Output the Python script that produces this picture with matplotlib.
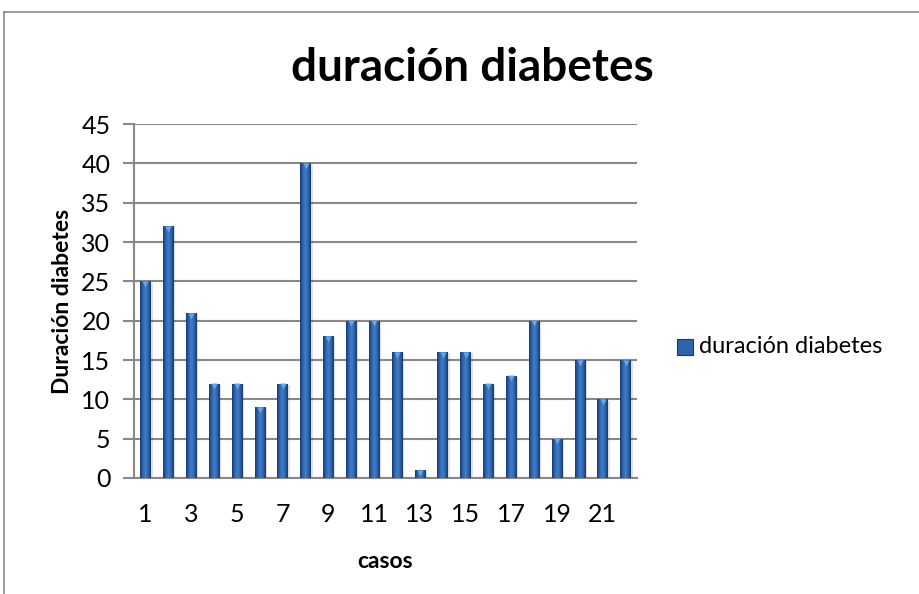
import numpy as np
import matplotlib.pyplot as plt
from matplotlib.colors import LinearSegmentedColormap
from matplotlib.lines import Line2D

plt.rcParams['font.family'] = ['Lato', 'DejaVu Sans']

casos = list(range(1, 23))
duracion = [25, 32, 21, 12, 12, 9, 12, 40, 18, 20, 20, 16, 1, 16, 16, 12, 13, 20, 5, 15, 10, 15]
yticks = list(range(0, 46, 5))
xtick_labels = [str(c) for c in casos[::2]]

fig = plt.figure(figsize=(9.2, 5.94), dpi=100)
ax = fig.add_axes([0.1457, 0.1953, 0.5467, 0.5959])

# outer chart frame (only top and left visible)
fig.add_artist(Line2D([0.0045, 0.0045], [0, 0.98], color='#8c8c8c', lw=1.2, transform=fig.transFigure))
fig.add_artist(Line2D([0.0045, 1.0], [0.98, 0.98], color='#8c8c8c', lw=1.2, transform=fig.transFigure))

bar_w = 0.46
bars = ax.bar(casos, duracion, width=bar_w, color='#2f62a8', edgecolor='none', zorder=3)

cmap = LinearSegmentedColormap.from_list('excel', ['#173a6e', '#2e64ad', '#3f7ccc', '#2e64ad', '#173a6e'])
grad = np.linspace(0, 1, 64).reshape(1, -1)
for b in bars:
    x0, w, h = b.get_x(), b.get_width(), b.get_height()
    # soft shadow to the right
    ax.bar(x0 + w / 2 + 0.08, h, width=w, bottom=-0.15, color='#000000', alpha=0.12,
           edgecolor='none', zorder=2)
    im = ax.imshow(grad, cmap=cmap, aspect='auto', extent=(x0, x0 + w, 0, h), zorder=4)
    im.set_clip_path(b)
    # lighter cap at the top
    ax.plot([x0 + w / 2], [h - 0.35], marker='v', ms=4.5, color='#6aa3e6', mec='none', zorder=5)

ax.set_xlim(0.5, 22.5)
ax.set_ylim(0, 45)
ax.set_yticks(yticks)
ax.set_xticks(casos[::2])
ax.set_xticklabels(xtick_labels)

ax.yaxis.grid(True, color='#888888', lw=1.5, zorder=0)
ax.set_axisbelow(True)
for s in ['top', 'right']:
    ax.spines[s].set_visible(False)
ax.spines['left'].set_color('#888888')
ax.spines['left'].set_linewidth(1.5)
ax.spines['bottom'].set_color('#888888')
ax.spines['bottom'].set_linewidth(1.5)
ax.tick_params(axis='y', length=8, width=1.5, color='#888888', labelsize=18, pad=9)
ax.tick_params(axis='x', length=0, labelsize=18, pad=18)

ax.set_ylabel('Duración diabetes', fontsize=16.5, fontweight='bold', labelpad=6)
ax.set_xlabel('casos', fontsize=16.5, fontweight='bold', labelpad=18)

fig.text(0.513, 0.885, 'duración diabetes', fontsize=33, fontweight='bold', ha='center', va='center')

# legend
fig.patches.append(plt.Rectangle((0.736, 0.403), 0.0175, 0.027, transform=fig.transFigure,
                                 facecolor='#2e64ad', edgecolor='#173a6e', lw=0.8))
fig.text(0.760, 0.416, 'duración diabetes', fontsize=17, ha='left', va='center')

fig.savefig('out.png', dpi=100)
